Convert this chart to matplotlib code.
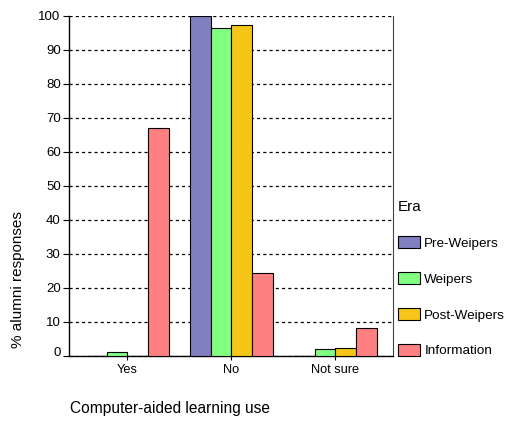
import numpy as np
import matplotlib
matplotlib.use("Agg")
import matplotlib.pyplot as plt
import matplotlib.transforms as mtransforms

plt.rcParams['font.family'] = ['Liberation Sans', 'DejaVu Sans']

categories = ["Yes", "No", "Not sure"]
eras = ["Pre-Weipers", "Weipers", "Post-Weipers", "Information"]
pre_weipers = [0.0, 100.0, 0.0]
weipers = [1.2, 96.4, 2.2]
post_weipers = [0.0, 97.5, 2.5]
information = [67.1, 24.5, 8.3]
yticks = [0, 10, 20, 30, 40, 50, 60, 70, 80, 90, 100]

colors = ["#8080C0", "#80FF80", "#F5C518", "#FF8080"]
series = [pre_weipers, weipers, post_weipers, information]

fig = plt.figure(figsize=(5.11, 4.22), dpi=100)
ax = fig.add_axes([69 / 511, 66 / 422, 324 / 511, 340 / 422])

x = np.arange(len(categories))
w = 0.2
handles = []
for i, (vals, c, name) in enumerate(zip(series, colors, eras)):
    b = ax.bar(x + (i - 1.5) * w, vals, width=w, color=c, edgecolor="black",
               linewidth=0.8, label=name, zorder=3)
    handles.append(b)

ax.set_xlim(-0.5625, 2.553)
ax.set_ylim(0, 100)
ax.set_xticks(x)
ax.set_xticklabels(categories, fontsize=9.2)
ax.set_yticks(yticks)
ax.set_yticklabels([str(t) for t in yticks], fontsize=9.5)
ax.tick_params(axis="y", length=4, width=0.8, pad=2)
ax.tick_params(axis="x", length=3, width=0.8, pad=3)

# the "0" label sits a bit above its tick in the original
lab0 = ax.get_yticklabels()[0]
lab0.set_transform(lab0.get_transform() + mtransforms.ScaledTranslation(0, 5 / 100, fig.dpi_scale_trans))

ax.yaxis.grid(True, color="black", linestyle=(0, (2.5, 2.5)), linewidth=0.9, zorder=0)
ax.spines["top"].set_visible(False)
ax.spines["right"].set_color("#444444")
ax.spines["right"].set_linewidth(0.8)
ax.spines["left"].set_linewidth(1.0)
ax.spines["bottom"].set_linewidth(1.0)

fig.text(18.5 / 511, (422 - 280) / 422, "% alumni responses", rotation=90,
         ha="center", va="center", fontsize=11)
fig.text(70 / 511, (422 - 408) / 422, "Computer-aided learning use",
         ha="left", va="center", fontsize=11.2)

leg = fig.legend(handles=handles, labels=eras, title="Era", loc="upper left",
                 bbox_to_anchor=(398 / 511, (422 - 200) / 422),
                 frameon=False, fontsize=9.7, title_fontsize=11,
                 alignment="left", borderpad=0, borderaxespad=0,
                 handlelength=1.6, handleheight=1.0, handletextpad=0.35,
                 labelspacing=1.65)

fig.savefig("out.png", dpi=100)
